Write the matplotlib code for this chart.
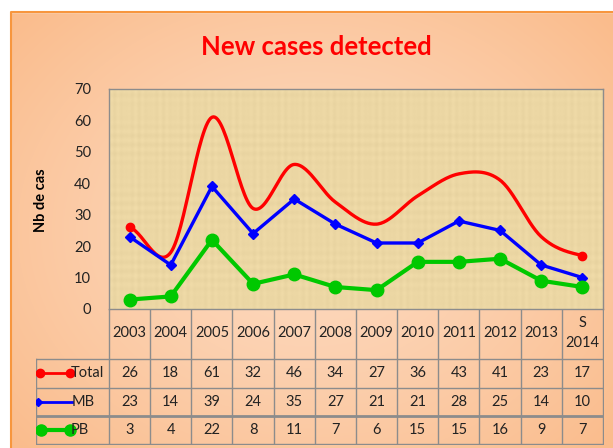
import numpy as np
import matplotlib
matplotlib.use("Agg")
import matplotlib.pyplot as plt

# data
years = ["2003", "2004", "2005", "2006", "2007", "2008", "2009", "2010",
         "2011", "2012", "2013", "S\n2014"]
total = [26, 18, 61, 32, 46, 34, 27, 36, 43, 41, 23, 17]
mb = [23, 14, 39, 24, 35, 27, 21, 21, 28, 25, 14, 10]
pb = [3, 4, 22, 8, 11, 7, 6, 15, 15, 16, 9, 7]
series_names = ["Total", "MB", "PB"]
yticks = [0, 10, 20, 30, 40, 50, 60, 70]

plt.rcParams['font.family'] = ['Lato', 'DejaVu Sans']

W, H = 613, 448
fig = plt.figure(figsize=(W / 100, H / 100), dpi=100)


def box(l, t, r, b):
    # pixel box -> figure fraction rect
    return [l / W, (H - b) / H, (r - l) / W, (b - t) / H]


# peach gradient background with orange border
bg = fig.add_axes([0, 0, 1, 1], zorder=-10)
bg.set_xlim(0, W)
bg.set_ylim(H, 0)
bg.axis("off")
yy, xx = np.mgrid[0:H, 0:W]
d = np.sqrt(((xx - 310) / 400.0) ** 2 + ((yy - 230) / 320.0) ** 2)
d = np.clip(d, 0, 1) ** 1.3
c_in = np.array([253, 218, 192]) / 255
c_out = np.array([250, 188, 140]) / 255
img = c_in[None, None, :] * (1 - d[..., None]) + c_out[None, None, :] * d[..., None]
bg.imshow(img, extent=[0, W, H, 0], aspect="auto")
bg.fill_between([0, W], 0, 12, color="white", zorder=2)
bg.fill_between([0, 10], 0, H, color="white", zorder=2)
bg.plot([10.5, 10.5, W], [H, 12.5, 12.5], color="#F7963E", lw=1.5, zorder=3)

fig.text(316 / W, 1 - 47 / H, "New cases detected", color="#FF0000",
         fontsize=18.5, fontweight="bold", ha="center", va="center")

# main plot
ax = fig.add_axes(box(109, 89, 603, 309))
x = np.arange(len(years))

# parchment-like fill (streaky pattern)
py_, px_ = np.mgrid[0:220, 0:494]
streak = (0.5 * np.sin(px_ * 0.9) * np.sin(px_ * 0.13 + 1.0)
          + 0.5 * np.sin(py_ * 0.7) * np.sin(py_ * 0.05 + 2.0))
base = np.array([236, 215, 164]) / 255
tex = base[None, None, :] + 0.02 * streak[..., None]
ax.imshow(np.clip(tex, 0, 1), extent=[-0.5, len(years) - 0.5, 0, 70],
          aspect="auto", zorder=0)


def smooth(xs, ys, n=30):
    # Catmull-Rom curve like Excel's smoothed line
    xs = np.asarray(xs, float)
    ys = np.asarray(ys, float)
    px = np.concatenate([[2 * xs[0] - xs[1]], xs, [2 * xs[-1] - xs[-2]]])
    py = np.concatenate([[ys[0]], ys, [ys[-1]]])
    ox, oy = [], []
    for i in range(1, len(px) - 2):
        t = np.linspace(0, 1, n)
        for arr, out in ((px, ox), (py, oy)):
            p0, p1, p2, p3 = arr[i - 1], arr[i], arr[i + 1], arr[i + 2]
            out.extend(0.5 * ((2 * p1) + (-p0 + p2) * t
                              + (2 * p0 - 5 * p1 + 4 * p2 - p3) * t ** 2
                              + (-p0 + 3 * p1 - 3 * p2 + p3) * t ** 3))
    return ox, oy


sx, sy = smooth(x, total)
ax.plot(sx, sy, color="#FF0000", lw=2.4, zorder=3)
ax.plot([x[0], x[-1]], [total[0], total[-1]], "o", color="#FF0000", ms=6, zorder=4)
ax.plot(x, mb, color="#0000FF", lw=2.4, marker="D", ms=5, zorder=4)
ax.plot(x, pb, color="#00C800", lw=3, marker="o", ms=9, zorder=5)

ax.set_xlim(-0.5, len(years) - 0.5)
ax.set_ylim(0, 70)
ax.set_yticks(yticks)
ax.set_yticklabels([str(v) for v in yticks], fontsize=10.5, color="#222222")
ax.tick_params(axis="y", length=0, pad=13)
ax.set_xticks([])
for s in ax.spines.values():
    s.set_color("#8C8C8C")
    s.set_linewidth(1)
fig.text(41 / W, 1 - 200 / H, "Nb de cas", rotation=90, fontsize=10.5,
         fontweight="bold", ha="center", va="center")

# data table under the plot
tb = fig.add_axes(box(36, 309, 604, 445))
tb.axis("off")
colw = (603 - 109) / 12.0


def pxc(px):
    return -0.5 + (px - 109) / colw


left = pxc(36)
tb.set_xlim(left, pxc(604))
tb.set_ylim(445, 309)
gray = "#8C8C8C"
for i in range(len(years) + 1):
    tb.plot([i - 0.5, i - 0.5], [309, 444], color=gray, lw=1)
tb.plot([left, left], [359, 444], color=gray, lw=1)
for yl, w in ((359, 1), (388, 1), (416, 2), (444, 1)):
    tb.plot([left, len(years) - 0.5], [yl, yl], color=gray, lw=w)

for i, y in enumerate(years):
    tb.text(i, 333, y, ha="center", va="center", fontsize=10.5, color="#222222",
            linespacing=1.5)

rows = [total, mb, pb]
row_y = [373, 402, 430]
for vals, ry in zip(rows, row_y):
    for i, v in enumerate(vals):
        tb.text(i, ry, str(v), ha="center", va="center", fontsize=10.5, color="#222222")

# legend keys in the table
tb.plot([pxc(40), pxc(70)], [373, 373], color="#FF0000", lw=2, marker="o", ms=6)
tb.plot([pxc(38), pxc(72)], [402, 402], color="#0000FF", lw=2)
tb.plot([pxc(38)], [402], marker="D", color="#0000FF", ms=4)
tb.plot([pxc(41), pxc(70)], [430, 430], color="#00C800", lw=3, marker="o", ms=8)
for name, ry, xo in zip(series_names, row_y, (71, 72, 71)):
    tb.text(pxc(xo), ry, name, ha="left", va="center", fontsize=10.5, color="#222222")

fig.savefig("out.png", dpi=100)
